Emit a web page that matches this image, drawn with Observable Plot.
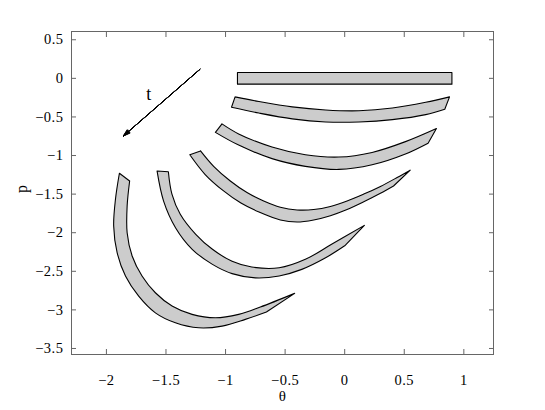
<!DOCTYPE html>
<html><head><meta charset="utf-8">
<script src="https://cdn.jsdelivr.net/npm/d3@7"></script>
<script src="https://cdn.jsdelivr.net/npm/@observablehq/plot@0.6"></script>
<style>
html,body{margin:0;padding:0;background:#fff;}
#chart svg{display:block;}
</style></head><body><div id="chart"></div>
<script>
// tick values
const xTicks = [-2, -1.5, -1, -0.5, 0, 0.5, 1];
const yTicks = [0.5, 0, -0.5, -1, -1.5, -2, -2.5, -3, -3.5];

// band outlines [theta, p]
const band0 = [[-0.9, 0.075], [0.9, 0.075], [0.9, -0.075], [-0.9, -0.075]];

const band1Upper = [[-0.92,-0.24],[-0.72,-0.30],[-0.44,-0.37],[-0.16,-0.41],[0.12,-0.42],[0.40,-0.385],[0.68,-0.31],[0.88,-0.24]];
const band1Lower = [[0.84,-0.40],[0.68,-0.47],[0.40,-0.535],[0.12,-0.565],[-0.16,-0.565],[-0.44,-0.525],[-0.72,-0.45],[-0.95,-0.375]];

const band2Upper = [[-1.03,-0.59],[-0.89,-0.72],[-0.61,-0.89],[-0.33,-0.99],[-0.05,-1.02],[0.23,-0.96],[0.51,-0.82],[0.77,-0.65]];
const band2Lower = [[0.70,-0.84],[0.51,-0.98],[0.23,-1.12],[-0.05,-1.18],[-0.33,-1.14],[-0.61,-1.04],[-0.89,-0.865],[-1.085,-0.70]];

const band3Upper = [[-1.21,-0.94],[-1.10,-1.14],[-0.96,-1.33],[-0.82,-1.48],[-0.68,-1.59],[-0.54,-1.67],[-0.40,-1.705],[-0.26,-1.70],[-0.12,-1.66],[0.02,-1.59],[0.16,-1.50],[0.30,-1.40],[0.44,-1.285],[0.55,-1.19]];
const band3Lower = [[0.41,-1.395],[0.30,-1.49],[0.16,-1.60],[0.02,-1.70],[-0.12,-1.78],[-0.26,-1.835],[-0.40,-1.862],[-0.54,-1.835],[-0.719,-1.732],[-0.871,-1.616],[-1.022,-1.452],[-1.171,-1.246],[-1.30,-0.99]];

const band4Upper = [[-1.48,-1.21],[-1.45,-1.50],[-1.38,-1.76],[-1.25,-2.02],[-1.11,-2.215],[-0.945,-2.37],[-0.78,-2.445],[-0.55,-2.455],[-0.33,-2.345],[-0.11,-2.15],[0.165,-1.905]];
const band4Lower = [[0.0,-2.17],[-0.16,-2.325],[-0.36,-2.475],[-0.55,-2.56],[-0.75,-2.585],[-0.945,-2.53],[-1.11,-2.41],[-1.28,-2.215],[-1.42,-1.935],[-1.52,-1.59],[-1.575,-1.20]];

const band5Upper = [[-1.805,-1.33],[-1.826,-1.654],[-1.826,-2.0],[-1.784,-2.302],[-1.701,-2.561],[-1.589,-2.778],[-1.449,-2.95],[-1.281,-3.058],[-1.085,-3.102],[-0.89,-3.058],[-0.708,-2.963],[-0.42,-2.786]];
const band5Lower = [[-0.657,-3.028],[-0.834,-3.123],[-1.029,-3.21],[-1.225,-3.232],[-1.421,-3.167],[-1.589,-3.038],[-1.729,-2.822],[-1.84,-2.561],[-1.91,-2.259],[-1.939,-1.913],[-1.924,-1.567],[-1.891,-1.23]];

// annotation: arrow showing time direction and its label
const arrowFrom = [-1.215, 0.117];
const arrowTo = [-1.858, -0.747];
const tLabel = [-1.643, -0.207];

// rectangle (initial set)
const rectRows = [...band0, band0[0]].map(([x, y]) => ({band: 0, x, y}));

// curved bands: repeat the end points of each edge so the smooth curve keeps sharp corners
const curved = [
  [band1Upper, band1Lower],
  [band2Upper, band2Lower],
  [band3Upper, band3Lower],
  [band4Upper, band4Lower],
  [band5Upper, band5Lower]
];
const withCorners = edge => [edge[0], ...edge, edge[edge.length - 1]];
const curvedRows = curved.flatMap(([up, lo], i) =>
  [...withCorners(up), ...withCorners(lo), up[0], up[0]].map(([x, y]) => ({band: i + 1, x, y}))
);

const fmt = d => (d < 0 ? "\u2212" + Math.abs(d) : String(d));
const blank = () => "";
const axisGray = "#666";
const arrowData = [{a: arrowFrom, b: arrowTo}];
const arrowOpts = angle => ({x1: d => d.a[0], y1: d => d.a[1], x2: d => d.b[0], y2: d => d.b[1], stroke: "#000", strokeWidth: 0.9, headLength: 12, headAngle: angle});

const chart = Plot.plot({
  width: 545,
  height: 410,
  marginLeft: 71,
  marginRight: 52,
  marginTop: 31,
  marginBottom: 56,
  style: {fontFamily: "'Liberation Serif', 'Times New Roman', serif", fontSize: "14.5px", color: "#000", background: "#fff", letterSpacing: "0.5px"},
  x: {domain: [-2.293, 1.249]},
  y: {domain: [-3.578, 0.607]},
  marks: [
    Plot.line(rectRows, {x: "x", y: "y", z: "band", fill: "#cccccc", stroke: "#000", strokeWidth: 1.1, strokeLinejoin: "round"}),
    Plot.line(curvedRows, {x: "x", y: "y", z: "band", curve: "catmull-rom", fill: "#cccccc", stroke: "#000", strokeWidth: 1.1, strokeLinejoin: "round"}),
    ...[6, 12, 18, 24, 30, 36].map(a => Plot.arrow(arrowData, arrowOpts(a))),
    Plot.text([tLabel], {x: d => d[0], y: d => d[1], text: () => "t", fontSize: 18, fill: "#000"}),
    Plot.frame({stroke: axisGray, strokeWidth: 1}),
    Plot.axisX(xTicks, {anchor: "bottom", tickSize: -5, tickFormat: blank, label: null, color: axisGray}),
    Plot.axisX(xTicks, {anchor: "top", tickSize: -5, tickFormat: blank, label: null, color: axisGray}),
    Plot.axisY(yTicks, {anchor: "left", tickSize: -5, tickFormat: blank, label: null, color: axisGray}),
    Plot.axisY(yTicks, {anchor: "right", tickSize: -5, tickFormat: blank, label: null, color: axisGray}),
    Plot.axisX(xTicks, {anchor: "bottom", tickSize: 0, tickPadding: 20, tickFormat: fmt, label: null, fill: "#000"}),
    Plot.axisY(yTicks, {anchor: "left", tickSize: 0, tickPadding: 8, tickFormat: fmt, label: null, fill: "#000"}),
    Plot.text(["\u03b8"], {frameAnchor: "bottom", dy: 46, text: d => d, fontSize: 15, fill: "#000"}),
    Plot.text(["p"], {frameAnchor: "left", dx: -50, rotate: -90, text: d => d, fontSize: 16, fill: "#000"})
  ]
});
document.getElementById("chart").appendChild(chart);
</script>
</body></html>
